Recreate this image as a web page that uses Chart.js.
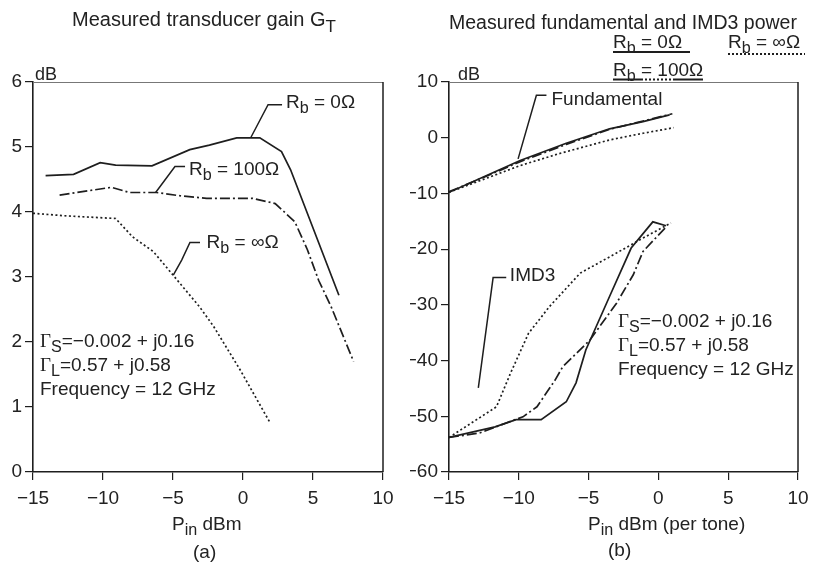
<!DOCTYPE html>
<html>
<head>
<meta charset="utf-8">
<script src="https://cdn.jsdelivr.net/npm/chart.js@4.4.0/dist/chart.umd.min.js"></script>
<style>
    body { margin: 0; background: #fff; }
    #wrap { position: relative; width: 820px; height: 566px; }
    canvas { position: absolute; top: 0; }
</style>
</head>
<body>
<div id="wrap">
    <canvas id="gainChart" width="410" height="566" style="left:0"></canvas>
    <canvas id="imdChart" width="410" height="566" style="left:410px"></canvas>
</div>
<script>
// Оси
const xTicks = [-15, -10, -5, 0, 5, 10];
const gainTicks = [0, 1, 2, 3, 4, 5, 6];
const powerTicks = [-60, -50, -40, -30, -20, -10, 0, 10];

// (a) усиление G_T, дБ
const gainX0 = [-14.1, -12.1, -10.2, -9.1, -6.5, -3.8, -2.4, -0.45, 1.2, 2.75, 3.4, 6.85];
const gainY0 = [4.56, 4.58, 4.76, 4.72, 4.71, 4.96, 5.03, 5.14, 5.14, 4.93, 4.65, 2.72];
const gainX100 = [-13.1, -9.4, -8.1, -6.2, -4.5, -2.6, 0.7, 2.3, 3.7, 4.6, 5.4, 6.3, 7.9];
const gainY100 = [4.26, 4.38, 4.30, 4.30, 4.25, 4.21, 4.21, 4.13, 3.85, 3.42, 2.95, 2.54, 1.70];
const gainXInf = [-15, -12.6, -9.1, -7.9, -6.4, -5.0, -3.1, -2.1, -0.2, 1.9];
const gainYInf = [3.98, 3.94, 3.90, 3.62, 3.39, 3.03, 2.54, 2.24, 1.57, 0.77];

// (b) основная гармоника, дБм
const fundX0 = [-15, -12.5, -9.9, -6.6, -3.5, -1.1, 0.8];
const fundY0 = [-9.8, -7.0, -4.1, -1.0, 1.6, 2.9, 4.1];
const fundX100 = [-15, -12.5, -9.9, -6.6, -3.5, -1.1, 1.0];
const fundY100 = [-9.7, -7.1, -4.3, -1.2, 1.5, 3.0, 4.3];
const fundXInf = [-15, -9.9, -7.1, -3.5, -1.1, 1.1];
const fundYInf = [-9.8, -5.0, -2.85, -0.4, 0.8, 1.8];

// (b) IMD3, дБм
const imdX0 = [-15, -11.7, -10.2, -8.4, -6.6, -5.9, -5.2, -3.5, -1.95, -0.4, 0.55];
const imdY0 = [-53.8, -51.9, -50.6, -50.6, -47.4, -44.0, -38.1, -28.5, -19.8, -15.1, -15.8];
const imdX100 = [-15, -12.8, -10.9, -9.7, -8.7, -7.4, -6.85, -4.9, -3.0, -1.8, -1.1, 0.6];
const imdY100 = [-53.8, -53.0, -51.2, -50.1, -48.3, -43.5, -41.1, -36.3, -29.7, -24.6, -20.4, -15.9];
const imdXInf = [-15, -11.6, -10.6, -9.3, -7.8, -5.6, -3.0, -1.1, 0.9];
const imdYInf = [-53.8, -48.3, -42.3, -35.1, -30.3, -24.3, -20.7, -18.0, -15.3];

const INK = '#1e1e1e';
const SANS = '"Liberation Sans", Arial, sans-serif';
const SERIF = '"Liberation Serif", serif';
const SOLID = [];
const DASHDOT = [10, 3, 2, 3];
const DOTTED = [2, 2.5];

function pts(xs, ys) {
    return xs.map((x, i) => ({ x: x, y: ys[i] }));
}

function line(xs, ys, dash) {
    return {
        data: pts(xs, ys),
        showLine: true,
        borderColor: INK,
        borderWidth: 1.7,
        borderDash: dash,
        pointRadius: 0,
        tension: 0,
        fill: false
    };
}

function fmt(v) {
    return v < 0 ? '\u2212' + Math.abs(v) : String(v);
}

// Текст с нижними индексами: 'R_{b} = 0Ω'
function drawRich(ctx, x, y, str, size) {
    const parts = str.split(/(_\{[^}]*\})/).filter(s => s.length);
    ctx.textAlign = 'left';
    ctx.textBaseline = 'alphabetic';
    parts.forEach(p => {
        let sub = false, t = p;
        if (p.startsWith('_{')) { sub = true; t = p.slice(2, -1); }
        // Гамма рисуем антиквой, как в оригинале
        t.split(/(Γ)/).filter(s => s.length).forEach(s => {
            const sz = sub ? size * 0.85 : size;
            ctx.font = sz + 'px ' + (s === 'Γ' ? SERIF : SANS);
            ctx.fillText(s, x, y + (sub ? size * 0.28 : 0));
            x += ctx.measureText(s).width;
        });
    });
    return x;
}

const notesPlugin = {
    id: 'notes',
    afterDraw(chart, args, opts) {
        const { ctx, chartArea: a, scales } = chart;
        const px = v => scales.x.getPixelForValue(v);
        const py = v => scales.y.getPixelForValue(v);
        ctx.save();

        // верх и правая граница рамки
        ctx.strokeStyle = '#777';
        ctx.lineWidth = 1;
        ctx.beginPath();
        ctx.moveTo(a.left, a.top + 0.5);
        ctx.lineTo(a.right, a.top + 0.5);
        ctx.stroke();
        ctx.strokeStyle = INK;
        ctx.lineWidth = 1.5;
        ctx.beginPath();
        ctx.moveTo(a.right, a.top);
        ctx.lineTo(a.right, a.bottom);
        ctx.stroke();

        // выноски
        ctx.lineWidth = 1.5;
        (opts.leaders || []).forEach(l => {
            ctx.beginPath();
            l.forEach((p, i) => {
                if (i === 0) ctx.moveTo(px(p[0]), py(p[1]));
                else ctx.lineTo(px(p[0]), py(p[1]));
            });
            ctx.stroke();
        });

        // образцы линий в легенде
        (opts.swatches || []).forEach(s => {
            ctx.setLineDash(s.dash);
            ctx.lineWidth = 2;
            ctx.beginPath();
            ctx.moveTo(s.x1, s.y);
            ctx.lineTo(s.x2, s.y);
            ctx.stroke();
        });
        ctx.setLineDash([]);

        ctx.fillStyle = '#222';
        (opts.texts || []).forEach(t => {
            const x = t.data ? px(t.x) : t.x;
            const y = t.data ? py(t.y) : t.y;
            drawRich(ctx, x, y, t.s, t.size || 19);
        });
        ctx.restore();
    }
};

function makeOptions(yMin, yMax, yStep, yWidth, padRight, notes) {
    return {
        responsive: false,
        animation: false,
        devicePixelRatio: 1,
        layout: { padding: { top: 82, right: padRight, left: 0, bottom: 0 } },
        plugins: {
            legend: { display: false },
            tooltip: { enabled: false },
            notes: notes
        },
        scales: {
            x: {
                type: 'linear',
                min: -15, max: 10,
                afterBuildTicks: s => { s.ticks = xTicks.map(v => ({ value: v })); },
                afterFit: s => { s.height = 94; s.paddingLeft = 0; s.paddingRight = 0; },
                grid: { drawOnChartArea: false, drawTicks: true, tickLength: 8, color: INK, lineWidth: 1.2 },
                border: { display: true, color: INK, width: 1.6 },
                ticks: { padding: 7, color: '#222', font: { family: SANS, size: 19 }, callback: fmt, maxRotation: 0 }
            },
            y: {
                type: 'linear',
                min: yMin, max: yMax,
                ticks: { stepSize: yStep, padding: 3, color: '#222', font: { family: SANS, size: 19 }, callback: fmt },
                afterFit: s => { s.width = yWidth; s.paddingTop = 0; s.paddingBottom = 0; },
                grid: { drawOnChartArea: false, drawTicks: true, tickLength: 8, color: INK, lineWidth: 1.2 },
                border: { display: true, color: INK, width: 1.6 }
            }
        }
    };
}

// (a) Measured transducer gain
new Chart(document.getElementById('gainChart'), {
    type: 'scatter',
    data: {
        datasets: [
            line(gainX0, gainY0, SOLID),
            line(gainX100, gainY100, DASHDOT),
            line(gainXInf, gainYInf, DOTTED)
        ]
    },
    options: makeOptions(0, 6, 1, 33, 27, {
        leaders: [
            [[0.57, 5.15], [1.79, 5.65], [2.79, 5.65]],
            [[-6.24, 4.30], [-4.86, 4.70], [-4.14, 4.70]],
            [[-4.98, 3.03], [-4.38, 3.26], [-3.79, 3.53], [-3.07, 3.53]]
        ],
        texts: [
            { x: 72, y: 26, s: 'Measured transducer gain G_{T}', size: 20 },
            { x: 35, y: 80, s: 'dB', size: 18 },
            { data: true, x: 3.07, y: 5.6, s: 'R_{b} = 0Ω' },
            { data: true, x: -3.86, y: 4.57, s: 'R_{b} = 100Ω' },
            { data: true, x: -2.6, y: 3.45, s: 'R_{b} = ∞Ω' },
            { x: 40, y: 347, s: 'Γ_{S}=\u22120.002 + j0.16' },
            { x: 40, y: 371, s: 'Γ_{L}=0.57 + j0.58' },
            { x: 40, y: 395, s: 'Frequency = 12 GHz' },
            { x: 172, y: 530, s: 'P_{in} dBm' },
            { x: 193, y: 558, s: '(a)' }
        ]
    }),
    plugins: [notesPlugin]
});

// (b) Measured fundamental and IMD3 power
new Chart(document.getElementById('imdChart'), {
    type: 'scatter',
    data: {
        datasets: [
            line(fundX0, fundY0, SOLID),
            line(fundX100, fundY100, DASHDOT),
            line(fundXInf, fundYInf, DOTTED),
            line(imdX0, imdY0, SOLID),
            line(imdX100, imdY100, DASHDOT),
            line(imdXInf, imdYInf, DOTTED)
        ]
    },
    options: makeOptions(-60, 10, 10, 39, 22, {
        leaders: [
            [[-10.05, -3.8], [-8.74, 7.6], [-8.02, 7.6]],
            [[-12.9, -44.9], [-11.84, -25.1], [-10.9, -25.1]]
        ],
        swatches: [
            { x1: 203, x2: 280, y: 52, dash: [] },
            { x1: 203, x2: 233, y: 79.5, dash: [] },
            { x1: 235, x2: 262, y: 79.5, dash: [2, 2] },
            { x1: 263, x2: 293, y: 79.5, dash: [] },
            { x1: 318, x2: 395, y: 54, dash: [2, 2] }
        ],
        texts: [
            { x: 39, y: 29, s: 'Measured fundamental and IMD3 power', size: 19.5 },
            { x: 203, y: 48, s: 'R_{b} = 0Ω' },
            { x: 203, y: 76, s: 'R_{b} = 100Ω' },
            { x: 318, y: 48, s: 'R_{b} = ∞Ω' },
            { x: 48, y: 80, s: 'dB', size: 18 },
            { data: true, x: -7.66, y: 5.79, s: 'Fundamental' },
            { data: true, x: -10.64, y: -25.73, s: 'IMD3' },
            { x: 208, y: 327, s: 'Γ_{S}=\u22120.002 + j0.16' },
            { x: 208, y: 351, s: 'Γ_{L}=0.57 + j0.58' },
            { x: 208, y: 375, s: 'Frequency = 12 GHz' },
            { x: 178, y: 530, s: 'P_{in} dBm (per tone)' },
            { x: 198, y: 556, s: '(b)' }
        ]
    }),
    plugins: [notesPlugin]
});
</script>
</body>
</html>
